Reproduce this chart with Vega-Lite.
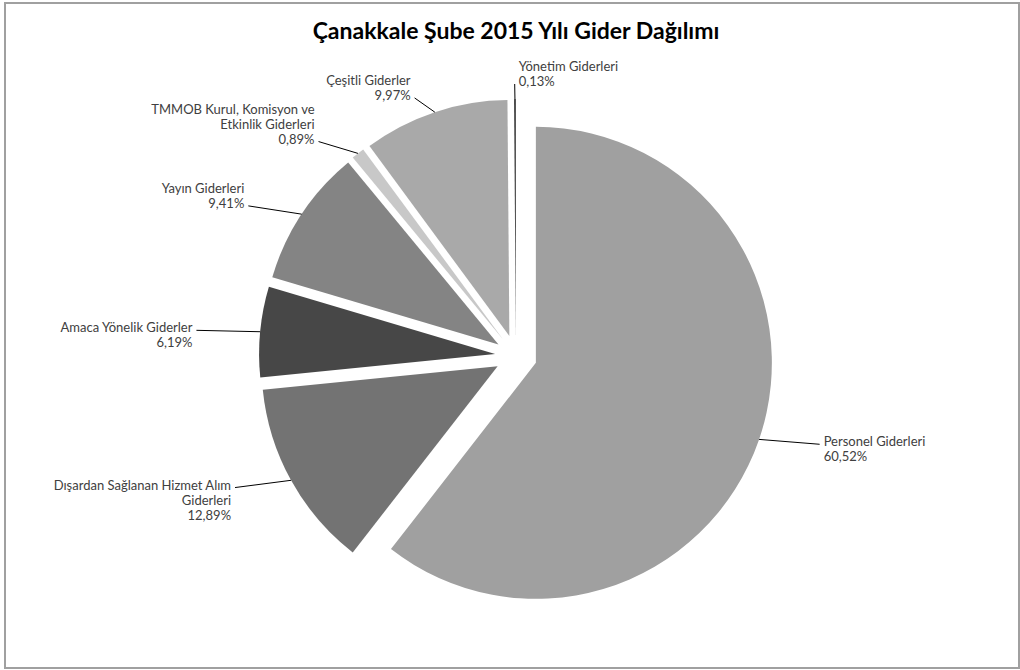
{
  "$schema": "https://vega.github.io/schema/vega-lite/v6.json",
  "width": 1014,
  "height": 665,
  "autosize": "none",
  "padding": {"left": 5, "top": 3, "right": 1, "bottom": 2},
  "background": "white",
  "title": {
    "text": "Çanakkale Şube 2015 Yılı Gider Dağılımı",
    "font": "Lato",
    "fontSize": 23,
    "fontWeight": "bold",
    "color": "#000000",
    "anchor": "middle",
    "offset": -41,
    "dx": 4
  },
  "config": {
    "view": {"stroke": "#a0a0a0", "strokeWidth": 2},
    "locale": {
      "number": {"decimal": ",", "thousands": ".", "grouping": [3], "currency": ["", " TL"]}
    }
  },
  "params": [
    {"name": "cx", "value": 511},
    {"name": "cy", "value": 353},
    {"name": "d", "value": 21},
    {"name": "r", "value": 236},
    {"name": "rx", "value": 300},
    {"name": "ry", "value": 251}
  ],
  "data": {
    "values": [
      {"kalem": "Personel Giderleri", "pay": 0.6052},
      {"kalem": "Dışardan Sağlanan Hizmet Alım\nGiderleri", "pay": 0.1289},
      {"kalem": "Amaca Yönelik Giderler", "pay": 0.0619},
      {"kalem": "Yayın Giderleri", "pay": 0.0941},
      {"kalem": "TMMOB Kurul, Komisyon ve\nEtkinlik Giderleri", "pay": 0.0089},
      {"kalem": "Çeşitli Giderler", "pay": 0.0997},
      {"kalem": "Yönetim Giderleri", "pay": 0.0013}
    ]
  },
  "transform": [
    {"stack": "pay", "groupby": [], "as": ["s0", "s1"]}
  ],
  "layer": [
    {
      "mark": {"type": "arc", "radius": 236},
      "encoding": {
        "theta": {"field": "s0", "type": "quantitative", "stack": null, "scale": {"domain": [0, 1]}},
        "theta2": {"field": "s1"},
        "x": {"value": {"expr": "cx + d*sin(PI*(datum.s0+datum.s1))"}},
        "y": {"value": {"expr": "cy - d*cos(PI*(datum.s0+datum.s1))"}},
        "color": {
          "field": "kalem",
          "type": "nominal",
          "legend": null,
          "scale": {
            "domain": [
              "Personel Giderleri",
              "Dışardan Sağlanan Hizmet Alım\nGiderleri",
              "Amaca Yönelik Giderler",
              "Yayın Giderleri",
              "TMMOB Kurul, Komisyon ve\nEtkinlik Giderleri",
              "Çeşitli Giderler",
              "Yönetim Giderleri"
            ],
            "range": ["#a0a0a0", "#737373", "#474747", "#848484", "#c8c8c8", "#a9a9a9", "#4a4a4a"]
          }
        }
      }
    },
    {
      "mark": {"type": "rule", "color": "#000000", "strokeWidth": 1},
      "encoding": {
        "x": {"value": {"expr": "cx + (d+r)*sin(PI*(datum.s0+datum.s1))"}},
        "y": {"value": {"expr": "cy - (d+r)*cos(PI*(datum.s0+datum.s1))"}},
        "x2": {"value": {"expr": "cx + (d+rx)*sin(PI*(datum.s0+datum.s1))"}},
        "y2": {"value": {"expr": "cy - (d+ry)*cos(PI*(datum.s0+datum.s1))"}}
      }
    },
    {
      "mark": {
        "type": "text",
        "font": "Lato",
        "fontSize": 13,
        "color": "#404040",
        "lineBreak": "\n",
        "lineHeight": 15,
        "baseline": "top",
        "align": {"expr": "sin(PI*(datum.s0+datum.s1)) >= -0.05 ? 'left' : 'right'"}
      },
      "encoding": {
        "text": {"value": {"expr": "datum.kalem + '\\n' + format(datum.pay, '.2%')"}},
        "x": {"value": {"expr": "cx + (d+rx)*sin(PI*(datum.s0+datum.s1)) + (sin(PI*(datum.s0+datum.s1)) >= -0.05 ? 4 : -4)"}},
        "y": {"value": {"expr": "cy - (d+ry)*cos(PI*(datum.s0+datum.s1)) - 8 - (cos(PI*(datum.s0+datum.s1)) > 0.5 ? length(split(datum.kalem, '\\n')) * 15 : 0)"}}
      }
    }
  ]
}
